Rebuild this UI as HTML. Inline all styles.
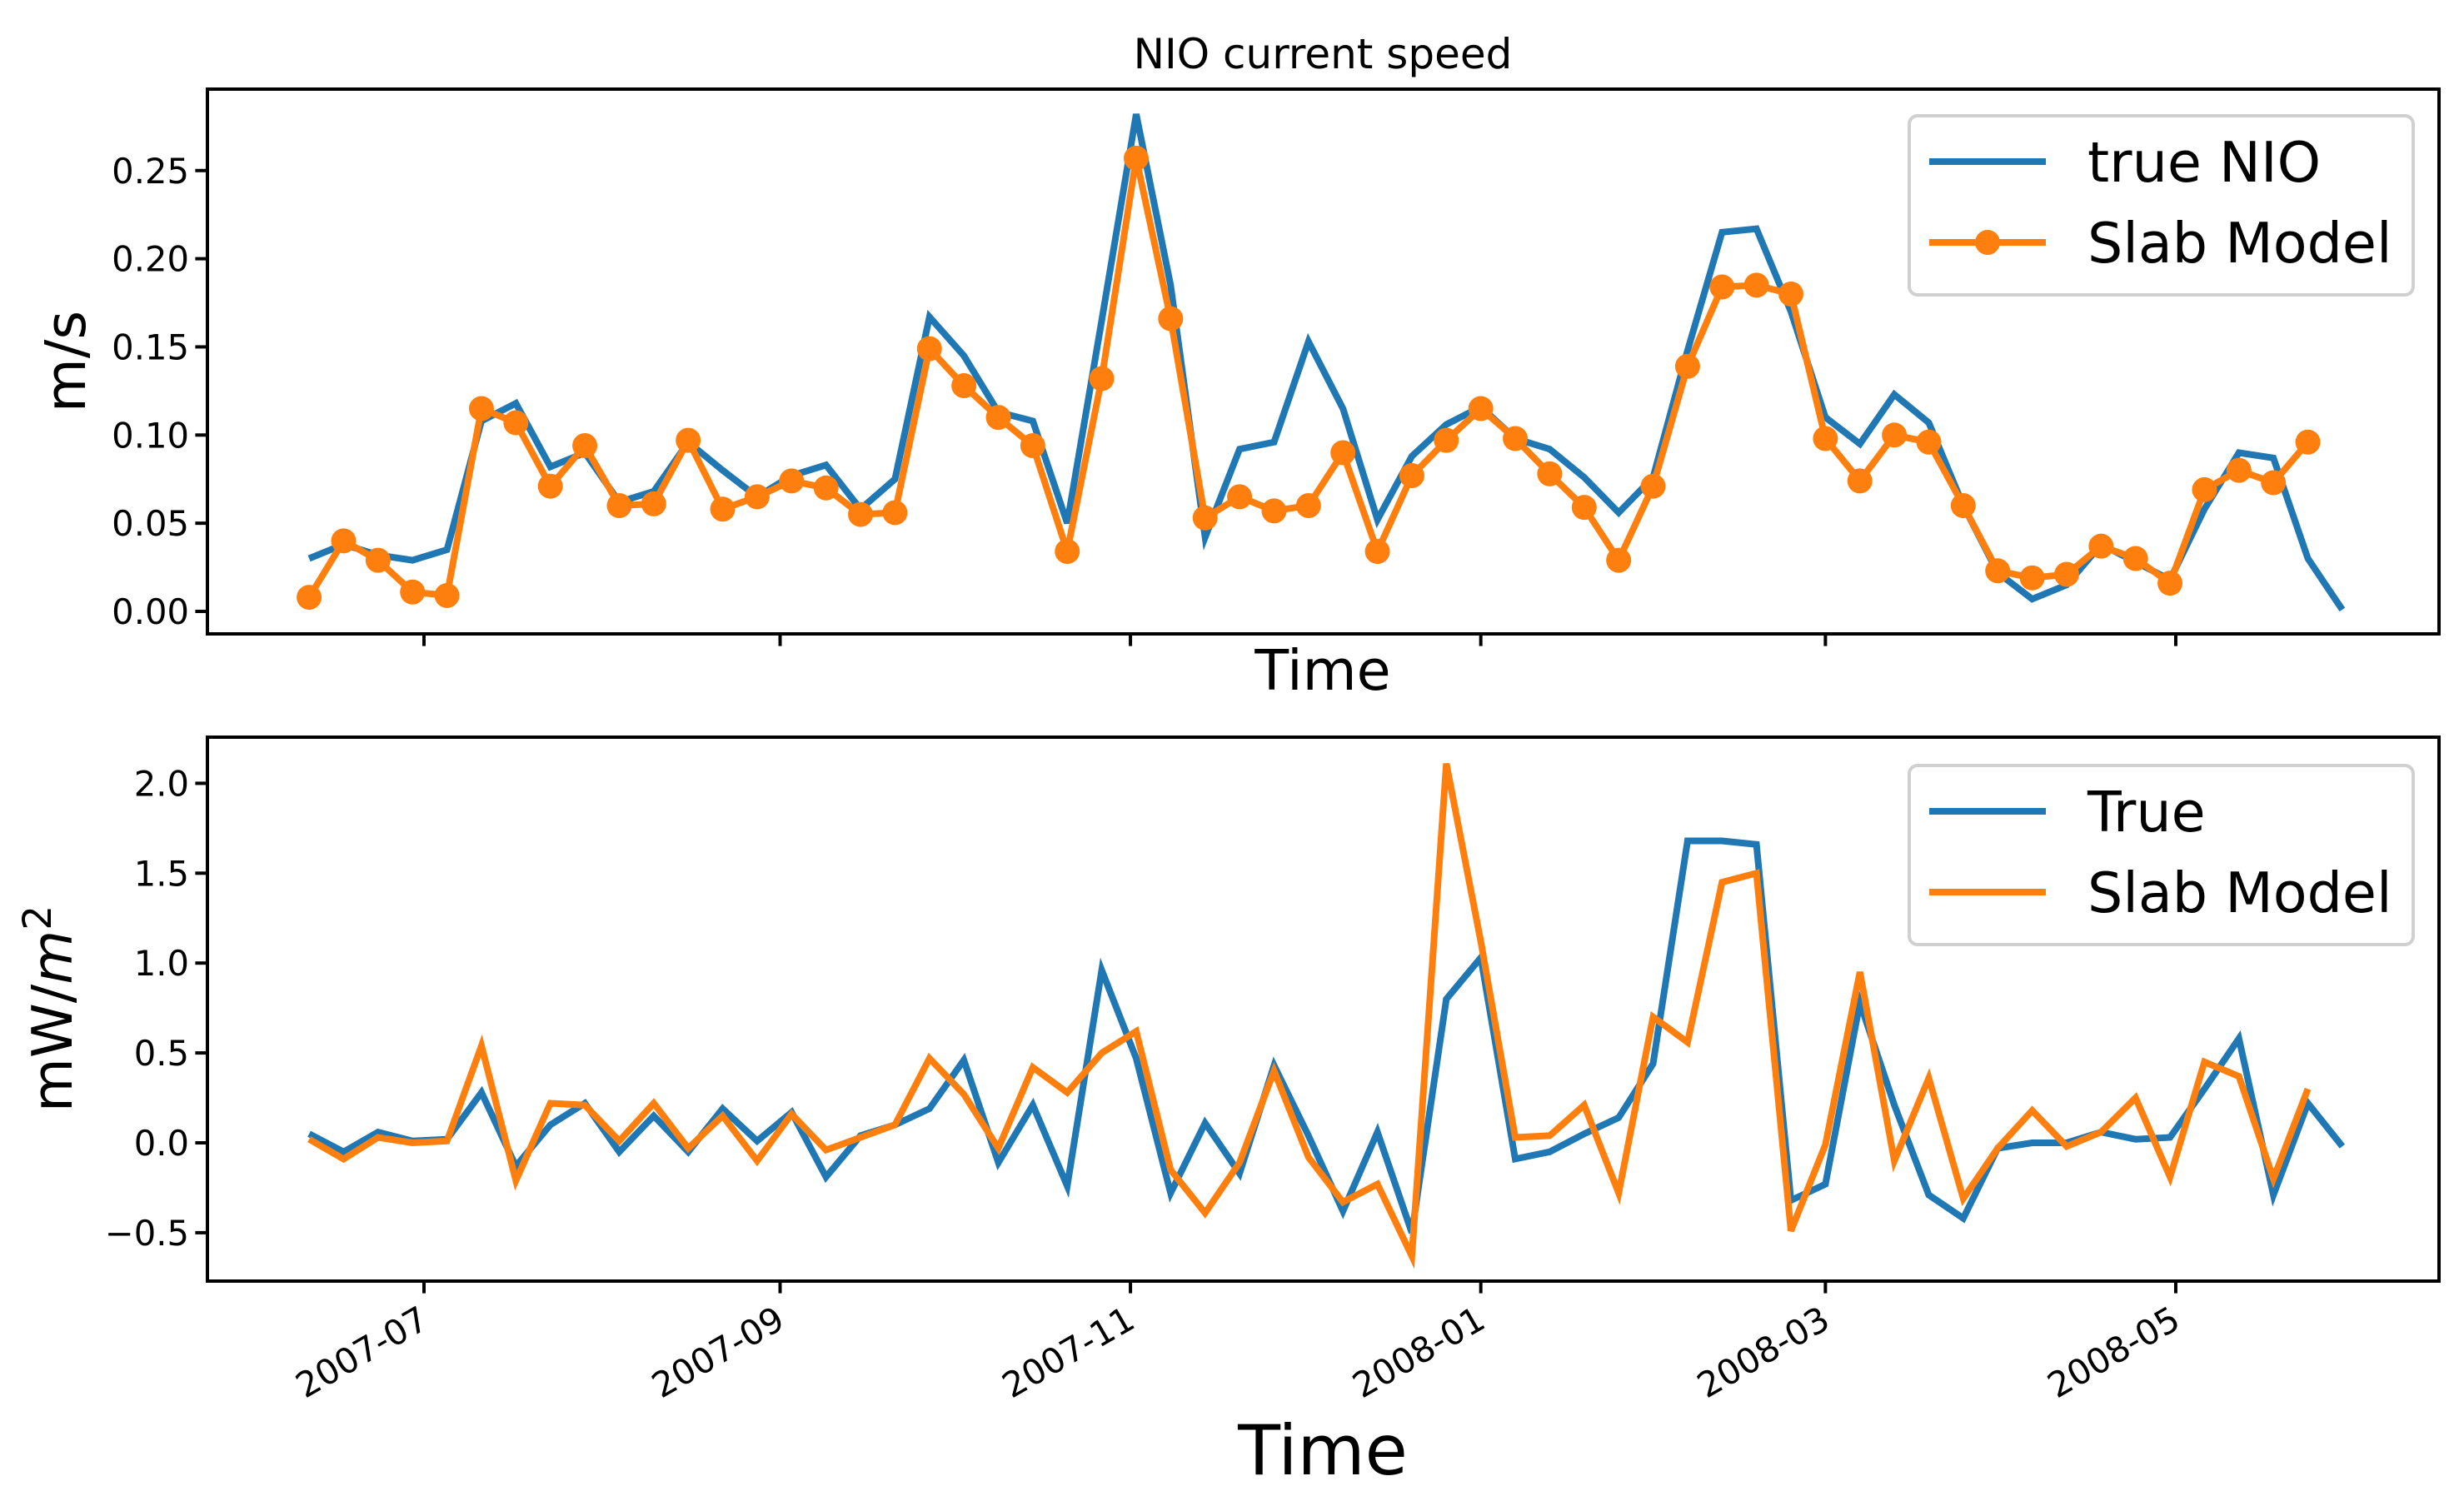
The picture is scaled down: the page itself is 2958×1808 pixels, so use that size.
<!DOCTYPE html>
<html><head><meta charset="utf-8"><style>
html,body{margin:0;padding:0;background:#fff;}
svg{display:block;font-family:"DejaVu Sans","Liberation Sans",sans-serif;}
</style></head><body>
<svg id="chart" width="2958" height="1808" viewBox="0 0 2958 1808" xmlns="http://www.w3.org/2000/svg">
<rect width="2958" height="1808" fill="#fff"/>
<text x="1588" y="82" font-size="50" text-anchor="middle">NIO current speed</text>
<g id="top"></g>
<g id="bot"></g>
</svg>
<script>
const speedTrue = [0.030,0.038,0.032,0.029,0.035,0.108,0.118,0.082,0.090,0.062,0.068,0.096,0.080,0.065,0.077,0.083,0.058,0.075,0.167,0.145,0.113,0.108,0.050,0.165,0.282,0.185,0.042,0.092,0.096,0.153,0.115,0.052,0.088,0.106,0.116,0.098,0.092,0.076,0.056,0.076,0.148,0.215,0.217,0.170,0.110,0.095,0.123,0.107,0.060,0.022,0.007,0.015,0.038,0.028,0.018,0.058,0.090,0.087,0.030,0.001];
const speedSlab = [0.008,0.040,0.029,0.011,0.009,0.115,0.107,0.071,0.094,0.060,0.061,0.097,0.058,0.065,0.074,0.070,0.055,0.056,0.149,0.128,0.110,0.094,0.034,0.132,0.257,0.166,0.053,0.065,0.057,0.060,0.090,0.034,0.077,0.097,0.115,0.098,0.078,0.059,0.029,0.071,0.139,0.184,0.185,0.180,0.098,0.074,0.100,0.096,0.060,0.023,0.019,0.021,0.037,0.030,0.016,0.069,0.080,0.073,0.096];
const powerTrue = [0.05,-0.05,0.06,0.01,0.02,0.28,-0.13,0.10,0.22,-0.05,0.15,-0.05,0.19,0.01,0.17,-0.19,0.04,0.10,0.19,0.46,-0.11,0.21,-0.24,0.96,0.47,-0.28,0.11,-0.17,0.43,0.04,-0.38,0.06,-0.50,0.80,1.03,-0.09,-0.05,0.05,0.14,0.44,1.68,1.68,1.66,-0.32,-0.23,0.78,0.21,-0.29,-0.42,-0.03,0.00,0.00,0.06,0.02,0.03,0.30,0.58,-0.29,0.22,-0.02];
const powerSlab = [0.02,-0.09,0.03,0.00,0.01,0.54,-0.21,0.22,0.21,0.01,0.22,-0.03,0.15,-0.10,0.16,-0.04,0.03,0.10,0.47,0.27,-0.03,0.42,0.28,0.50,0.62,-0.15,-0.39,-0.11,0.40,-0.08,-0.33,-0.23,-0.63,2.11,1.12,0.03,0.04,0.21,-0.28,0.70,0.56,1.45,1.50,-0.49,-0.01,0.95,-0.10,0.36,-0.31,-0.03,0.18,-0.02,0.06,0.25,-0.19,0.45,0.37,-0.20,0.30];
const startDate = "2007-06-11";
const stepDays = 6;
const xTickLabels = ["2007-07","2007-09","2007-11","2008-01","2008-03","2008-05"];
const topYTicks = [0.00,0.05,0.10,0.15,0.20,0.25];
const topYTickLabels = ["0.00","0.05","0.10","0.15","0.20","0.25"];
const botYTicks = [-0.5,0.0,0.5,1.0,1.5,2.0];
const botYTickLabels = ["\u22120.5","0.0","0.5","1.0","1.5","2.0"];

const NS="http://www.w3.org/2000/svg";
const L=249, R=2928;
const DAY=86400000, ref=Date.UTC(2007,6,1);
function dayOf(s){const p=s.split("-").map(Number);return (Date.UTC(p[0],p[1]-1,p[2]||1)-ref)/DAY;}
function xScale(d){return 509 + d*6.895;}
function xIdx(i){return xScale(dayOf(startDate)+i*stepDays);}
function yTop(v){return 734 - v*2117;}
function yBot(v){return 1372 - v*215.8;}
function mk(tag,attrs,parent){const e=document.createElementNS(NS,tag);for(const k in attrs)e.setAttribute(k,attrs[k]);parent.appendChild(e);return e;}
function poly(arr,ys,color,parent,name){
  const pts=arr.map((v,i)=>xIdx(i).toFixed(1)+","+ys(v).toFixed(1)).join(" ");
  const p=mk("polyline",{points:pts,fill:"none",stroke:color,"stroke-width":8,"stroke-linejoin":"miter"},parent);
  
  
}
function axes(g,top,bot,yt,ytl,ys,showXLabels,prefix){
  yt.forEach((v,i)=>{
    const y=ys(v);
    const t=mk("line",{x1:L-14.6,x2:L,y1:y,y2:y,stroke:"#000","stroke-width":4},g);
    
    
    const tx=mk("text",{x:L-22,y:y+15,"font-size":41.7,"text-anchor":"end"},g);
    tx.textContent=ytl[i];
    
    
  });
  xTickLabels.forEach(s=>{
    const x=xScale(dayOf(s));
    const t=mk("line",{x1:x,x2:x,y1:bot,y2:bot+14.6,stroke:"#000","stroke-width":4},g);
    
    
    if(showXLabels){
      const tx=mk("text",{x:x-6,y:bot+58,"font-size":41.7,"text-anchor":"end",transform:`rotate(-30 ${x-6} ${bot+30})`},g);
      tx.textContent=s;
      
      
    }
  });
}
function frame(g,top,bot,prefix){
  const r=mk("rect",{x:L,y:top,width:R-L,height:bot-top,fill:"none",stroke:"#000","stroke-width":4},g);
  
  
}
function legend(g,top,entries,prefix,markers){
  const box=mk("rect",{x:2292,y:top,width:605,height:215,rx:10,fill:"#fff","fill-opacity":0.8,stroke:"#d0d0d0","stroke-width":4},g);
  
  
  entries.forEach((e,i)=>{
    const y=top+55+i*97;
    const ln=mk("line",{x1:2316,x2:2456,y1:y,y2:y,stroke:e[1],"stroke-width":8},g);
    
    
    if(markers&&e[2]){
      const c=mk("circle",{cx:2386,cy:y,r:15,fill:e[1]},g);
      
      
    }
    const t=mk("text",{x:2506,y:y+24,"font-size":66.7},g);
    t.textContent=e[0];
    
    
  });
}
const gt=document.getElementById("top"), gb=document.getElementById("bot");


// top
axes(gt,107,761,topYTicks,topYTickLabels,yTop,false,"top");
poly(speedTrue,yTop,"#1f77b4",gt,"true-nio-line");
poly(speedSlab,yTop,"#ff7f0e",gt,"slab-model-line");
speedSlab.forEach((v,i)=>{
  const c=mk("circle",{cx:xIdx(i),cy:yTop(v),r:15,fill:"#ff7f0e"},gt);
  
  
});
frame(gt,107,761,"top");
legend(gt,139,[["true NIO","#1f77b4",false],["Slab Model","#ff7f0e",true]],"top",true);
// bottom
axes(gb,885,1538,botYTicks,botYTickLabels,yBot,true,"bottom");
poly(powerTrue,yBot,"#1f77b4",gb,"true-power-line");
poly(powerSlab,yBot,"#ff7f0e",gb,"slab-power-line");
frame(gb,885,1538,"bottom");
legend(gb,919,[["True","#1f77b4"],["Slab Model","#ff7f0e"]],"bottom",false);
</script>
<svg style="position:absolute;left:0;top:0" width="2958" height="1808">
<text x="102" y="434" font-size="66.7" text-anchor="middle" transform="rotate(-90 102 434)" font-family="DejaVu Sans, sans-serif">m/s</text>
<text x="1588" y="828" font-size="66.7" text-anchor="middle" font-family="DejaVu Sans, sans-serif">Time</text>
<text x="86" y="1211" font-size="66.7" text-anchor="middle" transform="rotate(-90 86 1211)" font-family="DejaVu Sans, sans-serif">mW/<tspan font-style="italic">m</tspan><tspan dy="-25" font-size="47">2</tspan></text>
<text x="1588" y="1770" font-size="83.3" text-anchor="middle" font-family="DejaVu Sans, sans-serif">Time</text>
</svg>
</body></html>
